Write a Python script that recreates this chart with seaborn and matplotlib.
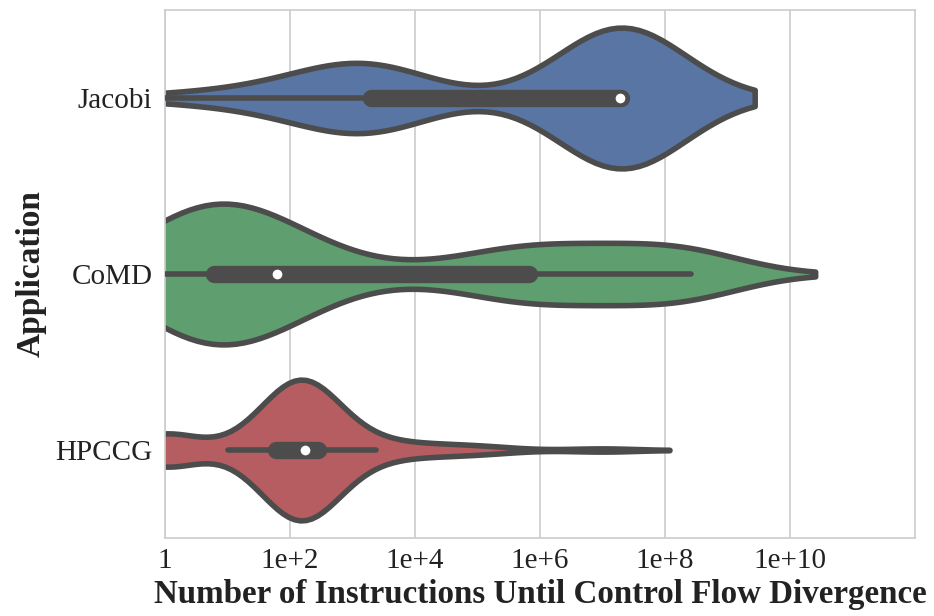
import numpy as np
import pandas as pd
import matplotlib
matplotlib.use("Agg")
import matplotlib.pyplot as plt
import seaborn as sns

# ---------------- data (log10 of the number of instructions) ----------------
apps = ["Jacobi", "CoMD", "HPCCG"]
app_colors = ["#4C72B0", "#55A868", "#C44E52"]

jacobi_vals = [0.0, 0.75, 1.3, 1.75, 2.1, 2.4, 2.6, 2.75, 2.87, 2.97, 3.05, 3.12,
               3.18, 3.23, 3.28, 3.31, 3.34, 3.37, 3.4, 3.44, 3.48, 3.53, 3.6,
               7.22, 7.28, 7.3, 7.35, 7.39]
jacobi_counts = [1, 1, 1, 1, 1, 1, 1, 1, 1, 1, 1, 1,
                 1, 1, 1, 1, 1, 1, 1, 1, 1, 1, 1,
                 3, 8, 15, 7, 4]

comd_vals = [0.0, 0.3, 0.55, 0.78, 1.0, 1.25, 1.5, 1.79, 2.1, 2.5, 3.0,
             3.6, 4.2, 4.8, 5.3, 5.82, 6.3, 6.8, 7.3, 7.8, 8.41]
comd_counts = [26, 15, 15, 14, 16, 16, 14, 14, 10, 7, 4,
               2, 2, 5, 10, 18, 8, 9, 9, 9, 27]

hpccg_vals = [0.0, 1.0, 1.4, 1.6, 1.77, 1.9, 2.0, 2.1, 2.24, 2.33, 2.45, 2.6,
              2.8, 3.0, 3.2, 3.37, 3.6, 3.9, 4.2, 4.5, 4.9, 5.3, 7.0]
hpccg_counts = [10, 1, 2, 3, 4, 4, 5, 6, 8, 7, 6, 3,
                2, 2, 1, 1, 1, 1, 1, 1, 1, 1, 1]

tick_pos = [0, 2, 4, 6, 8, 10]
tick_labels = ["1", "1e+2", "1e+4", "1e+6", "1e+8", "1e+10"]

x_label = "Number of Instructions Until Control Flow Divergence"
y_label = "Application"

# ---------------- build long-form table ----------------
series = {
    "Jacobi": (jacobi_vals, jacobi_counts),
    "CoMD": (comd_vals, comd_counts),
    "HPCCG": (hpccg_vals, hpccg_counts),
}
frames = []
for app in apps:
    v, c = series[app]
    frames.append(pd.DataFrame({"app": app, "log_instr": np.repeat(v, c)}))
df = pd.concat(frames, ignore_index=True)

# ---------------- style ----------------
sns.set_style("whitegrid")
plt.rcParams["font.family"] = ["Liberation Serif", "DejaVu Serif"]
gray = "#4c4c4c"

fig = plt.figure(figsize=(9.34, 6.16), dpi=100)
ax = fig.add_axes([165 / 934, 1 - 538 / 616, 750 / 934, 528 / 616])

sns.violinplot(data=df, x="log_instr", y="app", order=apps, hue="app",
               hue_order=apps, palette=app_colors, legend=False, cut=2,
               density_norm="width", inner=None, linewidth=4,
               linecolor=gray, saturation=0.75, width=0.8, ax=ax)

# inner box (quartiles, 1.5 IQR whiskers, median dot) from the data
for i, app in enumerate(apps):
    obs = df.loc[df["app"] == app, "log_instr"].to_numpy()
    q1, med, q3 = np.percentile(obs, [25, 50, 75])
    iqr = q3 - q1
    lo = obs[obs >= q1 - 1.5 * iqr].min()
    hi = obs[obs <= q3 + 1.5 * iqr].max()
    ax.plot([lo, hi], [i, i], color=gray, lw=4, solid_capstyle="round", zorder=3)
    ax.plot([q1, q3], [i, i], color=gray, lw=12.5, solid_capstyle="round", zorder=3)
    ax.scatter([med], [i], s=64, color="white", edgecolor=gray, linewidth=1,
               zorder=4)

ax.set_xlim(0, 12)
ax.set_ylim(2.5, -0.5)
ax.set_xticks(tick_pos)
ax.set_xticklabels(tick_labels)
ax.yaxis.grid(False)
ax.xaxis.grid(True, color="#cccccc", lw=1.2)
for s in ax.spines.values():
    s.set_color("#cccccc")
    s.set_linewidth(1.2)

ax.tick_params(axis="x", labelsize=21, pad=7, length=0, labelcolor="#222222")
ax.tick_params(axis="y", labelsize=21, pad=9, length=0, labelcolor="#222222")
ax.set_xlabel(x_label, fontsize=23.8, fontweight="bold", labelpad=4,
              color="#222222")
ax.set_ylabel(y_label, fontsize=24, fontweight="bold", labelpad=6,
              color="#222222")

fig.savefig("out.png", dpi=100)
